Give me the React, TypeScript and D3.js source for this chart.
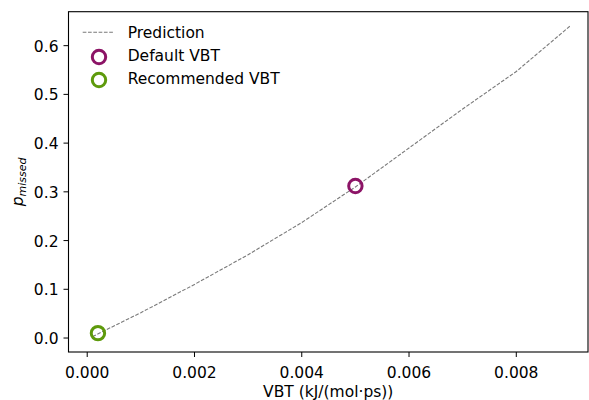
import React from "react";
import * as d3 from "d3";

const predX = [0.0001, 0.001, 0.002, 0.003, 0.004, 0.005, 0.006, 0.007, 0.008, 0.009];
const predY = [0.003, 0.052, 0.11, 0.171, 0.237, 0.31, 0.39, 0.47, 0.547, 0.64];
const defaultVBT = { x: 0.005, y: 0.312 };
const recommendedVBT = { x: 0.0002, y: 0.01 };
const xTicks = [0, 0.002, 0.004, 0.006, 0.008];
const yTicks = [0, 0.1, 0.2, 0.3, 0.4, 0.5, 0.6];
const legendLabels = ["Prediction", "Default VBT", "Recommended VBT"];

const W = 589, H = 400;
const L = 68.5, R = 588, T = 11.7, B = 352;
const FONT = "DejaVu Sans, sans-serif";
const FS = 15.5;
const PURPLE = "#8c1466";
const GREEN = "#5e9a0c";

export default function App() {
  const x = d3.scaleLinear().domain([-0.000349, 0.009337]).range([L, R]);
  const y = d3.scaleLinear().domain([-0.0287, 0.6697]).range([B, T]);
  const line = d3.line<number>().x((_, i) => x(predX[i])).y((d) => y(d));

  return (
    <svg width={W} height={H} style={{ position: "absolute", left: 0, top: 0 }} fontFamily={FONT}>
      <rect x={0} y={0} width={W} height={H} fill="#fff" />
      <path d={line(predY) || ""} fill="none" stroke="#7a7a7a" strokeWidth={1.1} strokeDasharray="3.7,1.6" />
      <circle cx={x(defaultVBT.x)} cy={y(defaultVBT.y)} r={6.7} fill="none" stroke={PURPLE} strokeWidth={3} />
      <circle cx={x(recommendedVBT.x)} cy={y(recommendedVBT.y)} r={6.7} fill="none" stroke={GREEN} strokeWidth={3} />
      <rect x={L} y={T} width={R - L} height={B - T} fill="none" stroke="#000" strokeWidth={1.1} />
      {xTicks.map((t) => (
        <g key={"x" + t}>
          <line x1={x(t)} x2={x(t)} y1={B} y2={B + 5} stroke="#000" strokeWidth={1} />
          <text x={x(t)} y={378} fontSize={FS} textAnchor="middle">{t.toFixed(3)}</text>
        </g>
      ))}
      {yTicks.map((t) => (
        <g key={"y" + t}>
          <line x1={L - 5} x2={L} y1={y(t)} y2={y(t)} stroke="#000" strokeWidth={1} />
          <text x={L - 10} y={y(t) + 6} fontSize={FS} textAnchor="end">{t.toFixed(1)}</text>
        </g>
      ))}
      <text x={(L + R) / 2} y={397} fontSize={FS} textAnchor="middle">VBT (kJ/(mol·ps))</text>
      <text transform={`translate(23,${(T + B) / 2}) rotate(-90)`} fontSize={FS} textAnchor="middle" fontStyle="italic">
        p<tspan fontSize={11} dy={2.5}>missed</tspan>
      </text>
      <g>
        <line x1={82.7} x2={113.3} y1={32.3} y2={32.3} stroke="#7a7a7a" strokeWidth={1.1} strokeDasharray="3.7,1.6" />
        <text x={127.7} y={37.7} fontSize={FS}>{legendLabels[0]}</text>
        <circle cx={99} cy={57} r={6.7} fill="none" stroke={PURPLE} strokeWidth={3} />
        <text x={127.7} y={61} fontSize={FS}>{legendLabels[1]}</text>
        <circle cx={99} cy={80} r={6.7} fill="none" stroke={GREEN} strokeWidth={3} />
        <text x={127.7} y={84.3} fontSize={FS}>{legendLabels[2]}</text>
      </g>
    </svg>
  );
}
